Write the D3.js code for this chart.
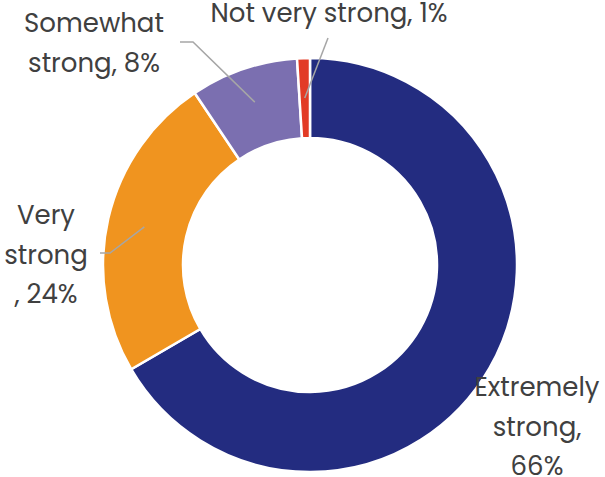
<!DOCTYPE html>
<html>
<head>
<meta charset="utf-8">
<script src="https://cdn.jsdelivr.net/npm/d3@7"></script>
<style>
  body { margin: 0; background: #fff; }
  text { font-family: Poppins, "Open Sans", sans-serif; fill: #404040; }
</style>
</head>
<body>
<div id="main"></div>
<script>
var categories = ["Extremely strong", "Very strong", "Somewhat strong", "Not very strong"];
var values = [66.6, 24.0, 8.4, 1.0];
var valueLabels = ["66%", "24%", "8%", "1%"];
var colors = ["#232c80", "#f0941f", "#7b6fb0", "#e23b26"];

// label lines as drawn in the original, one entry per slice
var labelLines = [
  ["Extremely", "strong,", "66%"],
  ["Very", "strong", ", 24%"],
  ["Somewhat", "strong, 8%"],
  ["Not very strong, 1%"]
];

var width = 605, height = 477;
var cx = 310, cy = 265, outerR = 207, innerR = 127;

var svg = d3.select("#main").append("svg")
    .attr("width", width)
    .attr("height", height);

var g = svg.append("g").attr("transform", "translate(" + cx + "," + cy + ")");

var pie = d3.pie().sort(null).value(function(d) { return d; });
var arc = d3.arc().innerRadius(innerR).outerRadius(outerR);
var arcs = pie(values);

g.selectAll("path")
    .data(arcs)
    .enter()
    .append("path")
    .attr("d", arc)
    .attr("fill", function(d, i) { return colors[i]; })
    .attr("stroke", "#fff")
    .attr("stroke-width", 2.5);

// label placement (x center, first baseline) and leader lines
var labelPos = [[537, 396], [46, 224], [94, 32], [329, 22]];
var lineH = 39.5;

svg.selectAll("text.lbl")
    .data(labelLines)
    .enter()
    .append("text")
    .attr("class", "lbl")
    .attr("text-anchor", "middle")
    .attr("font-size", 26)
    .each(function(lines, i) {
      var t = d3.select(this);
      lines.forEach(function(s, j) {
        t.append("tspan")
          .attr("x", labelPos[i][0])
          .attr("y", labelPos[i][1] + j * lineH)
          .text(s);
      });
    });

// leaders go from a point inside the slice to the label
var leaderR = [null, 170, 172, 167];
var leaderEnd = [null, [[110, 253], [100, 253]], [[193, 42], [180, 42]], [[328, 38]]];
[1, 2, 3].forEach(function(i) {
  var a = arcs[i];
  var mid = (a.startAngle + a.endAngle) / 2;
  var p = [cx + leaderR[i] * Math.sin(mid), cy - leaderR[i] * Math.cos(mid)];
  var pts = [p].concat(leaderEnd[i]);
  svg.append("path")
    .attr("d", d3.line()(pts))
    .attr("fill", "none")
    .attr("stroke", "#a6a6a6")
    .attr("stroke-width", 1.5);
});
</script>
</body>
</html>
